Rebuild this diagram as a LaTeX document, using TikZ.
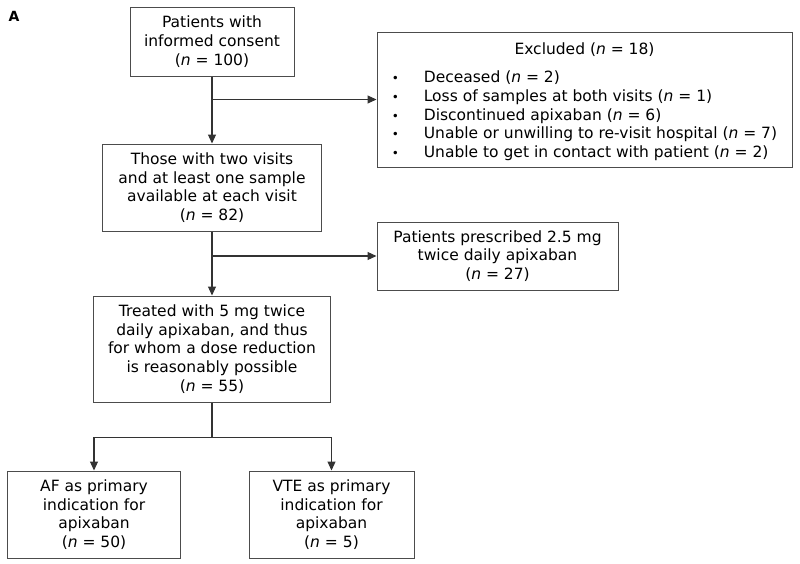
\documentclass[tikz,border=0pt]{standalone}
\usepackage{fontspec}
\setmainfont{DejaVu Sans}
\usetikzlibrary{arrows.meta,positioning}

\newcommand{\exbullet}{{\fontsize{12}{12}\selectfont\textbullet}}

\begin{document}
\begin{tikzpicture}[
    x=1pt, y=-1pt,
    font=\fontsize{15.5}{18.7}\selectfont,
    flowbox/.style={draw=black!70, line width=1pt, align=center, inner sep=0pt},
    arrow/.style={-{Triangle[width=8pt,length=9pt]}, draw=black!80, line width=1.1pt}
]
\useasboundingbox (0,0) rectangle (800,563);
\node[font=\fontsize{14}{16}\selectfont\bfseries] (panel) at (14,16) {A};

\node[flowbox, minimum width=164pt, minimum height=69pt] (consent) at (212,41.5) {
Patients with\\
informed consent\\
(\textit{n} = 100)};

\node[flowbox, minimum width=415pt, minimum height=135pt] (excl) at (584.5,99.5) {
\raisebox{-3pt}[\height][\depth]{\begin{tabular}{@{}p{32pt}@{}l@{}}
\multicolumn{2}{c}{Excluded (\textit{n} = 18)}\\[9pt]
\exbullet & Deceased (\textit{n} = 2)\\
\exbullet & Loss of samples at both visits (\textit{n} = 1)\\
\exbullet & Discontinued apixaban (\textit{n} = 6)\\
\exbullet & Unable or unwilling to re-visit hospital (\textit{n} = 7)\\
\exbullet & Unable to get in contact with patient (\textit{n} = 2)
\end{tabular}}};

\node[flowbox, minimum width=218.5pt, minimum height=87pt] (visits) at (212,187.5) {
Those with two visits\\
and at least one sample\\
available at each visit\\
(\textit{n} = 82)};

\node[flowbox, minimum width=241pt, minimum height=68pt] (lowdose) at (497.5,256) {
Patients prescribed 2.5 mg\\
twice daily apixaban\\
(\textit{n} = 27)};

\node[flowbox, minimum width=237.5pt, minimum height=106pt] (treated) at (212,349) {
Treated with 5 mg twice\\
daily apixaban, and thus\\
for whom a dose reduction\\
is reasonably possible\\
(\textit{n} = 55)};

\node[flowbox, minimum width=172.5pt, minimum height=87pt] (af) at (94,514.5) {
AF as primary\\
indication for\\
apixaban\\
(\textit{n} = 50)};

\node[flowbox, minimum width=165pt, minimum height=87pt] (vte) at (331.5,514.5) {
VTE as primary\\
indication for\\
apixaban\\
(\textit{n} = 5)};

\coordinate (exclsplit) at (consent.south |- excl.west);
\coordinate (lowsplit) at (visits.south |- lowdose.west);
\path (treated.south) ++(0,35) coordinate (indsplit);

\draw[arrow] (consent) -- (visits);
\draw[arrow] (exclsplit) -- (excl.west);
\draw[arrow] (visits) -- (treated);
\draw[arrow] (lowsplit) -- (lowdose.west);
\draw[draw=black!80, line width=1.1pt] (treated.south) -- (indsplit);
\draw[arrow] (indsplit) -| (af.north);
\draw[arrow] (indsplit) -| (vte.north);
\end{tikzpicture}
\end{document}
